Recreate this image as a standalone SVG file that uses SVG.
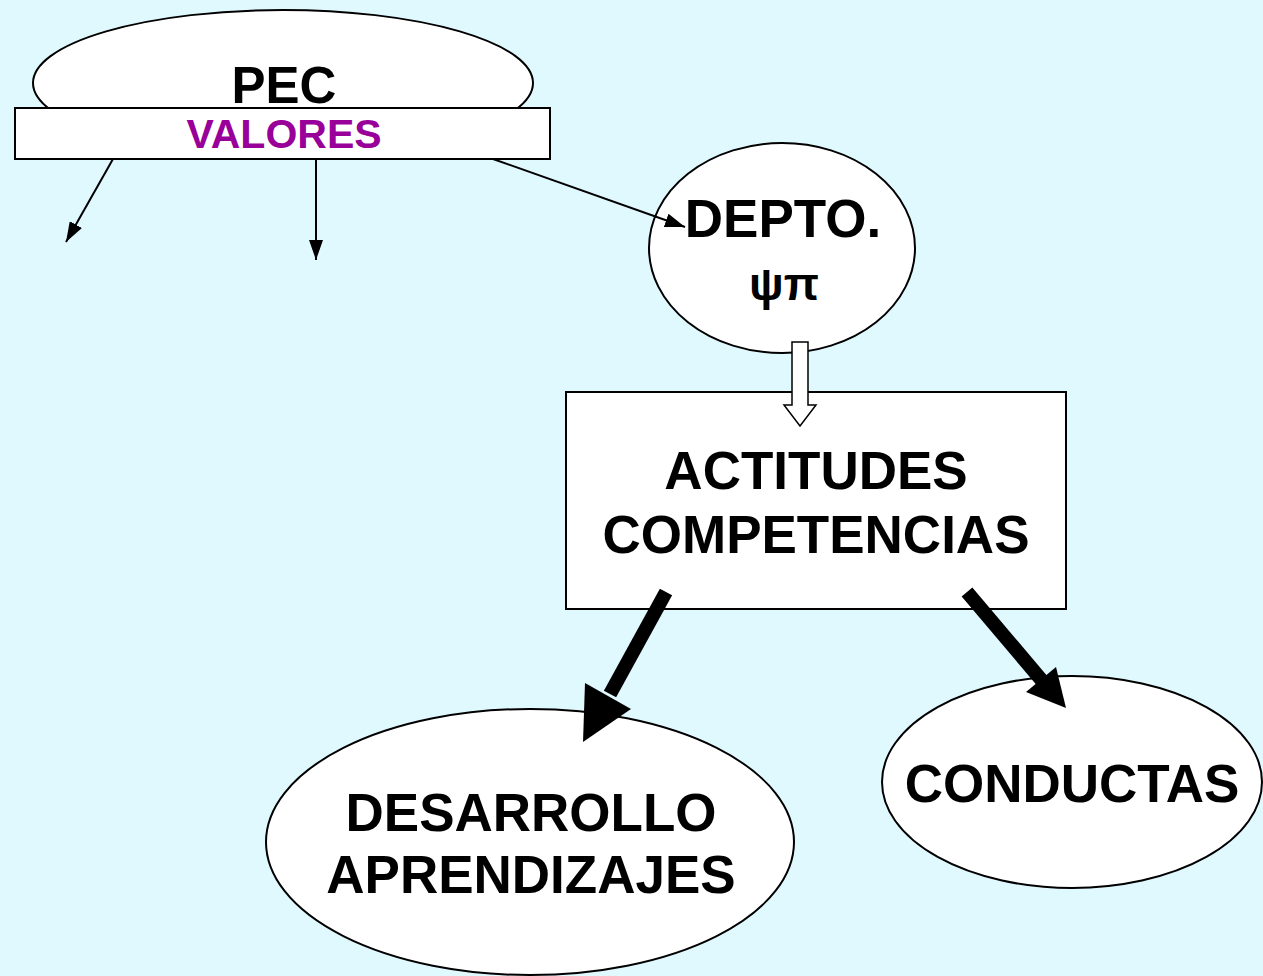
<svg xmlns="http://www.w3.org/2000/svg" width="1263" height="976" viewBox="0 0 1263 976">
<defs>
<style>
.shape{fill:#ffffff;stroke:#000000;stroke-width:2}
.t{font-family:"Liberation Sans",Arial,sans-serif;font-weight:bold;text-anchor:middle;fill:#000000}
.thin{stroke:#000000;stroke-width:2;fill:none}
</style>
<marker id="ahs" viewBox="0 0 20 14" refX="20" refY="7" markerWidth="20" markerHeight="14" markerUnits="userSpaceOnUse" orient="auto">
<path d="M0,0 L20,7 L0,14 Z" fill="#000000"/>
</marker>
</defs>
<rect x="0" y="0" width="1263" height="976" fill="#e0f9ff"/>
<g id="pec">
<ellipse class="shape" cx="283" cy="83" rx="250" ry="73"/>
<text class="t" x="284" y="103" font-size="51">PEC</text>
</g>
<g id="valores">
<rect class="shape" x="15" y="108" width="535" height="51"/>
<text class="t" x="284" y="148" font-size="41" style="fill:#990099">VALORES</text>
</g>
<g id="depto">
<ellipse class="shape" cx="782" cy="248" rx="133" ry="105"/>
<text class="t" x="783" y="237" font-size="53">DEPTO.</text>
<text class="t" x="784" y="300" font-size="46">ψπ</text>
</g>
<g id="actitudes">
<rect class="shape" x="566" y="392" width="500" height="217"/>
<text class="t" x="816" y="489" font-size="53">ACTITUDES</text>
<text class="t" x="816" y="553" font-size="53">COMPETENCIAS</text>
</g>
<g id="desarrollo">
<ellipse class="shape" cx="530" cy="842" rx="264" ry="133"/>
<text class="t" x="531" y="831" font-size="53">DESARROLLO</text>
<text class="t" x="531" y="893" font-size="53">APRENDIZAJES</text>
</g>
<g id="conductas">
<ellipse class="shape" cx="1072" cy="782" rx="190" ry="106"/>
<text class="t" x="1072" y="802" font-size="53">CONDUCTAS</text>
</g>
<g id="connectors">
<line class="thin" x1="113" y1="159" x2="66" y2="242" marker-end="url(#ahs)"/>
<line class="thin" x1="316" y1="159" x2="316" y2="260" marker-end="url(#ahs)"/>
<line class="thin" x1="493" y1="159" x2="685" y2="227" marker-end="url(#ahs)"/>
<path d="M792,342 L808,342 L808,405 L816,405 L800,426 L784,405 L792,405 Z" fill="#ffffff" stroke="#000000" stroke-width="1.5"/>
<line x1="666" y1="592" x2="610" y2="694" stroke="#000000" stroke-width="14"/>
<path d="M585,683 L631,709 L583,742 Z" fill="#000000"/>
<line x1="967" y1="592" x2="1044" y2="683" stroke="#000000" stroke-width="14"/>
<path d="M1026,692 L1056,667 L1066,708 Z" fill="#000000"/>
</g>
</svg>
